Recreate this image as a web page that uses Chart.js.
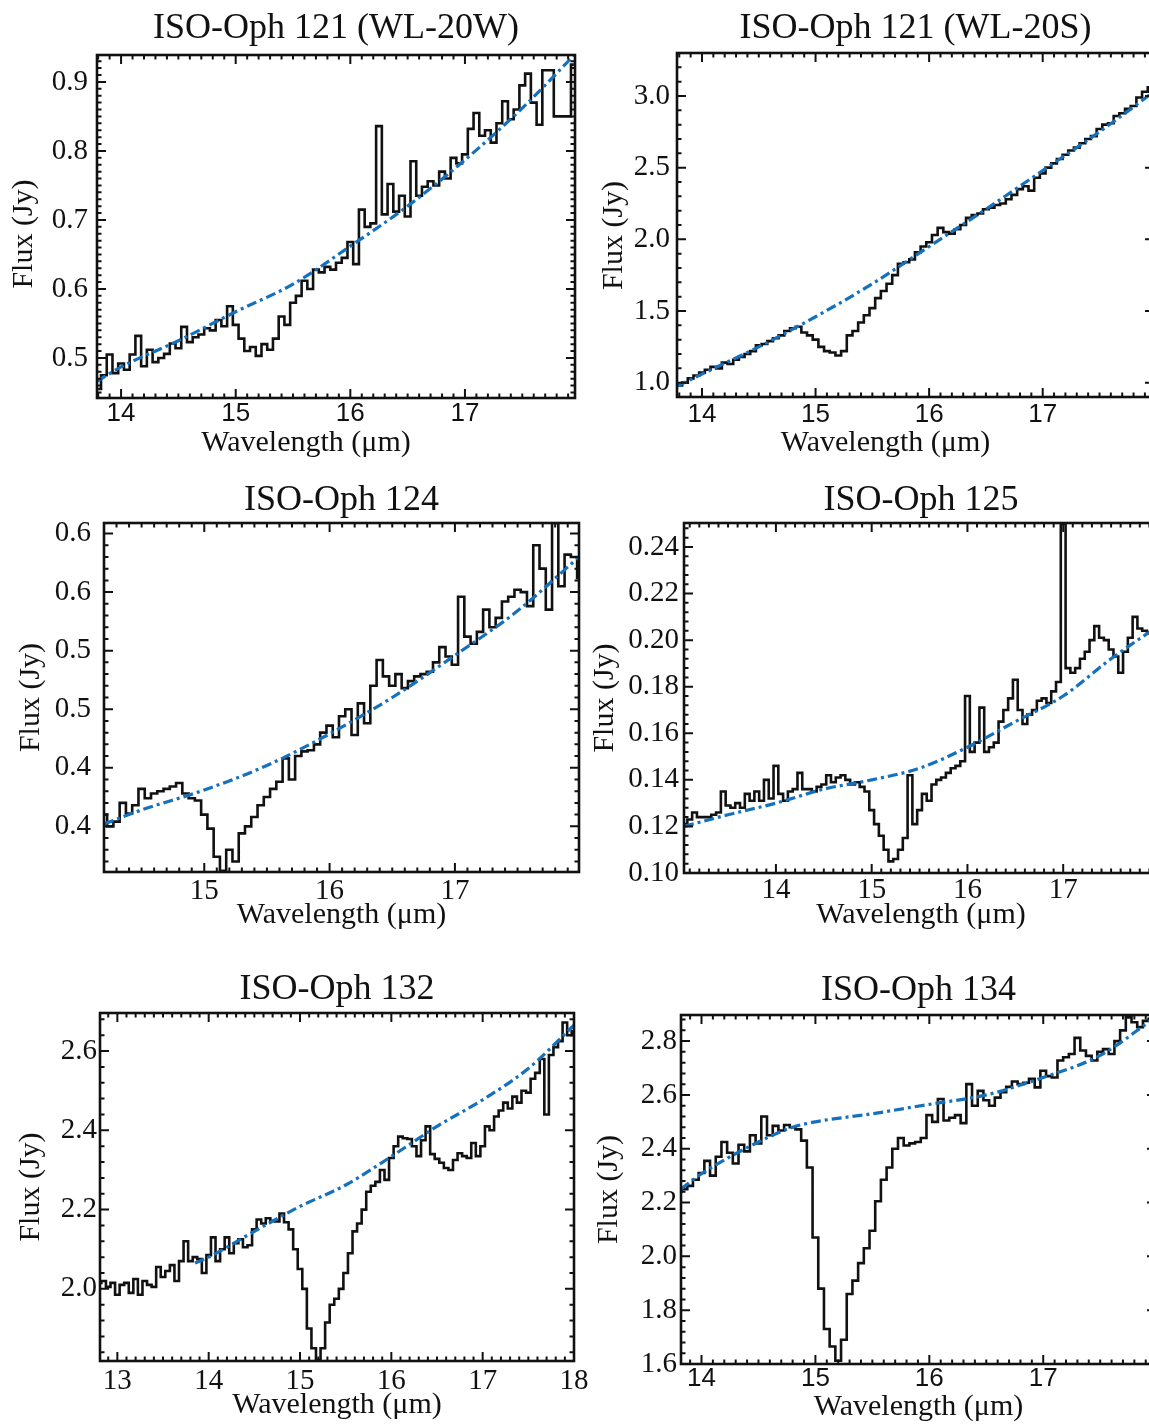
<!DOCTYPE html>
<html>
<head>
<meta charset="utf-8">
<script src="https://cdn.jsdelivr.net/npm/chart.js@4.4.1/dist/chart.umd.min.js"></script>
<style>
html, body { margin: 0; padding: 0; background: #fff; }
#page { position: relative; width: 1149px; height: 1425px; overflow: hidden; background: #fff; }
canvas { position: absolute; }
</style>
</head>
<body>
<div id="page">
<canvas id="c1"></canvas>
<canvas id="c2"></canvas>
<canvas id="c3"></canvas>
<canvas id="c4"></canvas>
<canvas id="c5"></canvas>
<canvas id="c6"></canvas>
</div>
<script>
'use strict';
// ISO-Oph 121 (WL-20W)
const wl121W = [13.80,13.85,13.90,13.95,14.00,14.05,14.10,14.15,14.20,14.25,
  14.30,14.35,14.40,14.45,14.50,14.55,14.60,14.65,14.70,14.75,
  14.80,14.85,14.90,14.95,15.00,15.05,15.10,15.15,15.20,15.25,
  15.30,15.35,15.40,15.45,15.50,15.55,15.60,15.65,15.70,15.75,
  15.80,15.85,15.90,15.95,16.00,16.05,16.10,16.15,16.20,16.25,
  16.30,16.35,16.40,16.45,16.50,16.55,16.60,16.65,16.70,16.75,
  16.80,16.85,16.90,16.95,17.00,17.05,17.10,17.15,17.20,17.25,
  17.30,17.35,17.40,17.45,17.50,17.55,17.60,17.65,17.70,17.75,
  17.80,17.85,17.90,17.95];
const fx121W = [0.455,0.475,0.505,0.478,0.492,0.483,0.505,0.532,0.488,0.512,
  0.494,0.500,0.506,0.521,0.514,0.545,0.523,0.530,0.534,0.543,
  0.540,0.555,0.546,0.575,0.548,0.528,0.510,0.516,0.503,0.520,
  0.512,0.528,0.560,0.548,0.580,0.590,0.612,0.600,0.628,0.624,
  0.632,0.628,0.638,0.645,0.668,0.636,0.715,0.690,0.695,0.836,
  0.708,0.752,0.712,0.735,0.705,0.785,0.735,0.748,0.756,0.750,
  0.770,0.760,0.790,0.782,0.795,0.832,0.855,0.822,0.830,0.812,
  0.840,0.872,0.846,0.860,0.895,0.912,0.870,0.838,0.917,0.917,
  0.850,0.850,0.850,0.925];
const cwl121W = [13.79,14.0,14.5,15.0,15.5,16.0,16.5,17.0,17.5,17.96];
const cfx121W = [0.466,0.487,0.525,0.567,0.607,0.662,0.720,0.787,0.862,0.940];

// ISO-Oph 121 (WL-20S)
const wl121S = [13.80,13.85,13.90,13.95,14.00,14.05,14.10,14.15,14.20,14.25,
  14.30,14.35,14.40,14.45,14.50,14.55,14.60,14.65,14.70,14.75,
  14.80,14.85,14.90,14.95,15.00,15.05,15.10,15.15,15.20,15.25,
  15.30,15.35,15.40,15.45,15.50,15.55,15.60,15.65,15.70,15.75,
  15.80,15.85,15.90,15.95,16.00,16.05,16.10,16.15,16.20,16.25,
  16.30,16.35,16.40,16.45,16.50,16.55,16.60,16.65,16.70,16.75,
  16.80,16.85,16.90,16.95,17.00,17.05,17.10,17.15,17.20,17.25,
  17.30,17.35,17.40,17.45,17.50,17.55,17.60,17.65,17.70,17.75,
  17.80,17.85,17.90,17.95,18.00];
const fx121S = [0.98,1.00,1.03,1.05,1.07,1.09,1.11,1.10,1.14,1.13,
  1.16,1.18,1.20,1.22,1.26,1.27,1.29,1.31,1.33,1.36,
  1.38,1.39,1.35,1.33,1.30,1.25,1.22,1.21,1.19,1.22,
  1.33,1.36,1.42,1.47,1.52,1.59,1.64,1.69,1.75,1.83,
  1.84,1.86,1.91,1.95,1.98,2.03,2.08,2.05,2.04,2.07,
  2.10,2.15,2.17,2.18,2.21,2.22,2.24,2.25,2.28,2.31,
  2.35,2.37,2.34,2.43,2.46,2.50,2.53,2.56,2.59,2.62,
  2.64,2.67,2.70,2.72,2.77,2.80,2.81,2.86,2.88,2.91,
  2.93,2.99,3.03,3.06,3.08];
const cwl121S = [13.78,14.0,14.5,15.0,15.5,16.0,16.5,17.0,17.5,17.98];
const cfx121S = [0.975,1.06,1.25,1.46,1.69,1.95,2.21,2.48,2.75,3.03];

// ISO-Oph 124
const wl124 = [14.20,14.25,14.30,14.35,14.40,14.45,14.50,14.55,14.60,14.65,
  14.70,14.75,14.80,14.85,14.90,14.95,15.00,15.05,15.10,15.15,
  15.20,15.25,15.30,15.35,15.40,15.45,15.50,15.55,15.60,15.65,
  15.70,15.75,15.80,15.85,15.90,15.95,16.00,16.05,16.10,16.15,
  16.20,16.25,16.30,16.35,16.40,16.45,16.50,16.55,16.60,16.65,
  16.70,16.75,16.80,16.85,16.90,16.95,17.00,17.05,17.10,17.15,
  17.20,17.25,17.30,17.35,17.40,17.45,17.50,17.55,17.60,17.65,
  17.70,17.75,17.80,17.85,17.90,17.95,18.00];
const fx124 = [0.410,0.400,0.404,0.420,0.411,0.418,0.432,0.424,0.428,0.430,
  0.432,0.434,0.437,0.428,0.424,0.422,0.410,0.398,0.374,0.362,
  0.380,0.370,0.394,0.400,0.408,0.418,0.425,0.432,0.438,0.458,
  0.440,0.460,0.464,0.465,0.470,0.480,0.486,0.476,0.494,0.500,
  0.478,0.505,0.488,0.520,0.542,0.528,0.520,0.530,0.518,0.524,
  0.528,0.530,0.532,0.540,0.553,0.545,0.538,0.596,0.562,0.556,
  0.566,0.585,0.570,0.578,0.592,0.596,0.602,0.600,0.588,0.640,
  0.620,0.585,0.659,0.605,0.632,0.630,0.612];
const cwl124 = [14.2,14.5,15.0,15.5,16.0,16.5,17.0,17.5,17.99];
const cfx124 = [0.402,0.414,0.431,0.452,0.479,0.510,0.546,0.584,0.630];

// ISO-Oph 125
const wl125 = [13.05,13.10,13.15,13.20,13.25,13.30,13.35,13.40,13.45,13.50,
  13.55,13.60,13.65,13.70,13.75,13.80,13.85,13.90,13.95,14.00,
  14.05,14.10,14.15,14.20,14.25,14.30,14.35,14.40,14.45,14.50,
  14.55,14.60,14.65,14.70,14.75,14.80,14.85,14.90,14.95,15.00,
  15.05,15.10,15.15,15.20,15.25,15.30,15.35,15.40,15.45,15.50,
  15.55,15.60,15.65,15.70,15.75,15.80,15.85,15.90,15.95,16.00,
  16.05,16.10,16.15,16.20,16.25,16.30,16.35,16.40,16.45,16.50,
  16.55,16.60,16.65,16.70,16.75,16.80,16.85,16.90,16.95,17.00,
  17.05,17.10,17.15,17.20,17.25,17.30,17.35,17.40,17.45,17.50,
  17.55,17.60,17.65,17.70,17.75,17.80,17.85,17.90,17.95,18.00];
const fx125 = [0.121,0.123,0.126,0.124,0.124,0.124,0.125,0.126,0.135,0.129,
  0.128,0.130,0.128,0.134,0.131,0.135,0.131,0.140,0.132,0.146,
  0.134,0.131,0.135,0.136,0.143,0.136,0.136,0.135,0.137,0.138,
  0.142,0.139,0.141,0.142,0.140,0.138,0.139,0.137,0.135,0.127,
  0.121,0.116,0.110,0.105,0.106,0.110,0.115,0.142,0.121,0.127,
  0.134,0.131,0.138,0.140,0.141,0.143,0.145,0.146,0.148,0.176,
  0.152,0.156,0.171,0.152,0.154,0.156,0.165,0.170,0.175,0.183,
  0.170,0.164,0.168,0.170,0.174,0.175,0.173,0.178,0.182,0.250,
  0.188,0.186,0.188,0.192,0.195,0.200,0.206,0.201,0.200,0.196,
  0.193,0.186,0.195,0.201,0.210,0.205,0.204,0.203,0.206,0.203];
const cwl125 = [13.04,13.5,14.0,14.5,15.0,15.5,16.0,16.5,17.0,17.5,17.99];
const cfx125 = [0.120,0.125,0.130,0.136,0.140,0.145,0.154,0.165,0.176,0.192,0.206];

// ISO-Oph 132
const wl132 = [12.80,12.85,12.90,12.95,13.00,13.05,13.10,13.15,13.20,13.25,13.30,
  13.35,13.40,13.45,13.50,13.55,13.60,13.65,13.70,13.75,13.80,
  13.85,13.90,13.95,14.00,14.05,14.10,14.15,14.20,14.25,14.30,
  14.35,14.40,14.45,14.50,14.55,14.60,14.65,14.70,14.75,14.80,
  14.85,14.90,14.95,15.00,15.05,15.10,15.15,15.20,15.25,15.30,
  15.35,15.40,15.45,15.50,15.55,15.60,15.65,15.70,15.75,15.80,
  15.85,15.90,15.95,16.00,16.05,16.10,16.15,16.20,16.25,16.30,
  16.35,16.40,16.45,16.50,16.55,16.60,16.65,16.70,16.75,16.80,
  16.85,16.90,16.95,17.00,17.05,17.10,17.15,17.20,17.25,17.30,
  17.35,17.40,17.45,17.50,17.55,17.60,17.65,17.70,17.75,17.80,
  17.85,17.90,17.95,18.00];
const fx132 = [2.015,2.020,2.005,2.015,1.985,2.010,2.015,1.990,2.025,1.985,2.020,
  2.010,2.005,2.055,2.030,2.045,2.060,2.020,2.070,2.120,2.070,
  2.080,2.075,2.040,2.085,2.130,2.070,2.100,2.130,2.090,2.115,
  2.125,2.105,2.110,2.150,2.175,2.165,2.178,2.172,2.170,2.190,
  2.168,2.150,2.100,2.050,2.000,1.900,1.850,1.820,1.850,1.915,
  1.960,1.975,2.000,2.040,2.090,2.145,2.165,2.200,2.245,2.260,
  2.270,2.300,2.275,2.330,2.360,2.384,2.380,2.378,2.360,2.335,
  2.375,2.410,2.340,2.328,2.318,2.305,2.300,2.325,2.342,2.335,
  2.330,2.368,2.335,2.360,2.410,2.400,2.435,2.450,2.470,2.455,
  2.485,2.470,2.500,2.495,2.530,2.545,2.580,2.440,2.590,2.610,
  2.625,2.672,2.640,2.650];
const cwl132 = [13.85,14.0,14.5,15.0,15.5,16.0,16.5,17.0,17.5,18.0];
const cfx132 = [2.065,2.080,2.145,2.208,2.262,2.334,2.410,2.477,2.556,2.665];

// ISO-Oph 134
const wl134 = [13.80,13.85,13.90,13.95,14.00,14.05,14.10,14.15,14.20,14.25,
  14.30,14.35,14.40,14.45,14.50,14.55,14.60,14.65,14.70,14.75,
  14.80,14.85,14.90,14.95,15.00,15.05,15.10,15.15,15.20,15.25,
  15.30,15.35,15.40,15.45,15.50,15.55,15.60,15.65,15.70,15.75,
  15.80,15.85,15.90,15.95,16.00,16.05,16.10,16.15,16.20,16.25,
  16.30,16.35,16.40,16.45,16.50,16.55,16.60,16.65,16.70,16.75,
  16.80,16.85,16.90,16.95,17.00,17.05,17.10,17.15,17.20,17.25,
  17.30,17.35,17.40,17.45,17.50,17.55,17.60,17.65,17.70,17.75,
  17.80,17.85,17.90,17.95,18.00];
const fx134 = [2.240,2.250,2.262,2.285,2.310,2.355,2.300,2.370,2.425,2.385,
  2.345,2.415,2.390,2.450,2.420,2.520,2.450,2.485,2.468,2.488,
  2.480,2.472,2.430,2.330,2.070,1.880,1.730,1.665,1.612,1.690,
  1.860,1.910,1.975,2.030,2.095,2.205,2.285,2.330,2.400,2.440,
  2.412,2.420,2.425,2.440,2.525,2.500,2.585,2.505,2.515,2.525,
  2.495,2.640,2.560,2.615,2.580,2.560,2.590,2.610,2.630,2.650,
  2.640,2.645,2.660,2.628,2.690,2.670,2.665,2.728,2.740,2.752,
  2.812,2.765,2.745,2.728,2.760,2.770,2.752,2.800,2.840,2.888,
  2.870,2.852,2.875,2.883,2.870];
const cwl134 = [13.82,14.0,14.5,14.8,15.0,15.5,16.0,16.5,17.0,17.5,17.99];
const cfx134 = [2.250,2.307,2.425,2.480,2.500,2.530,2.565,2.600,2.665,2.747,2.890];

// tick values and labels
const xTicks14 = [14, 15, 16, 17];
const xLabels14 = ['14', '15', '16', '17'];
const xTicks124 = [15, 16, 17];
const xLabels124 = ['15', '16', '17'];
const xTicks132 = [13, 14, 15, 16, 17, 18];
const xLabels132 = ['13', '14', '15', '16', '17', '18'];
const yTicks121W = [0.5, 0.6, 0.7, 0.8, 0.9];
const yLabels121W = ['0.5', '0.6', '0.7', '0.8', '0.9'];
const yTicks121S = [1.0, 1.5, 2.0, 2.5, 3.0];
const yLabels121S = ['1.0', '1.5', '2.0', '2.5', '3.0'];
const yTicks124 = [0.40, 0.45, 0.50, 0.55, 0.60, 0.65];
const yLabels124 = ['0.4', '0.4', '0.5', '0.5', '0.6', '0.6'];
const yTicks125 = [0.10, 0.12, 0.14, 0.16, 0.18, 0.20, 0.22, 0.24];
const yLabels125 = ['0.10', '0.12', '0.14', '0.16', '0.18', '0.20', '0.22', '0.24'];
const yTicks132 = [2.0, 2.2, 2.4, 2.6];
const yLabels132 = ['2.0', '2.2', '2.4', '2.6'];
const yTicks134 = [1.6, 1.8, 2.0, 2.2, 2.4, 2.6, 2.8];
const yLabels134 = ['1.6', '1.8', '2.0', '2.2', '2.4', '2.6', '2.8'];

const SERIF = "'Liberation Serif', 'DejaVu Serif', serif";
const SANS = "'Liberation Sans', 'DejaVu Sans', sans-serif";
const INK = '#111111';
const BLUE = '#1671bd';
const TITLE_SIZE = 36;
const AXIS_SIZE = 30;
const YTICK_SIZE = 29;

const panels = [
  { id: 'c1', left: 0, top: 0, w: 600, h: 470, area: [97, 55, 575, 398], title: 'ISO-Oph 121 (WL-20W)',
    wl: wl121W, fx: fx121W, cwl: cwl121W, cfx: cfx121W, xr: [13.79, 17.96], yr: [0.442, 0.939],
    xt: xTicks14, xl: xLabels14, yt: yTicks121W, yl: yLabels121W, xMinor: 0.1, yMinor: 0.01,
    sansX: true, titleMid: 29, xLabMid: 15.5, yLabGap: 9, yTitleX: 24, xTitleY: 443, xPadN: 4, yPad: '\u2002' },
  { id: 'c2', left: 580, top: 0, w: 600, h: 470, area: [97, 53, 574, 397], title: 'ISO-Oph 121 (WL-20S)',
    wl: wl121S, fx: fx121S, cwl: cwl121S, cfx: cfx121S, xr: [13.78, 17.98], yr: [0.90, 3.30],
    xt: xTicks14, xl: xLabels14, yt: yTicks121S, yl: yLabels121S, xMinor: 0.1, yMinor: 0.1,
    sansX: true, titleMid: 29, xLabMid: 18, yLabGap: 7, yTitleX: 34, xTitleY: 443, xPadN: 4, yPad: '\u2002\u2009' },
  { id: 'c3', left: 0, top: 470, w: 600, h: 490, area: [104, 53, 579, 402], title: 'ISO-Oph 124',
    wl: wl124, fx: fx124, cwl: cwl124, cfx: cfx124, xr: [14.2, 17.99], yr: [0.361, 0.659],
    xt: xTicks124, xl: xLabels124, yt: yTicks124, yl: yLabels124, xMinor: 0.1, yMinor: 0.01,
    sansX: false, titleMid: 31, xLabMid: 19.5, yLabGap: 13, yTitleX: 31, xTitleY: 445, xPadN: 0, yPad: '' },
  { id: 'c4', left: 580, top: 470, w: 600, h: 490, area: [104, 53, 578, 403], title: 'ISO-Oph 125',
    wl: wl125, fx: fx125, cwl: cwl125, cfx: cfx125, xr: [13.04, 17.99], yr: [0.10, 0.2503],
    xt: xTicks14, xl: xLabels14, yt: yTicks125, yl: yLabels125, xMinor: 0.1, yMinor: 0.004,
    sansX: false, titleMid: 31, xLabMid: 17, yLabGap: 5, yTitleX: 25, xTitleY: 445, xPadN: 0, yPad: '' },
  { id: 'c5', left: 0, top: 960, w: 600, h: 465, area: [100, 53, 574, 401], title: 'ISO-Oph 132',
    wl: wl132, fx: fx132, cwl: cwl132, cfx: cfx132, xr: [12.81, 18.0], yr: [1.818, 2.696],
    xt: xTicks132, xl: xLabels132, yt: yTicks132, yl: yLabels132, xMinor: 0.1, yMinor: 0.04,
    sansX: false, titleMid: 30, xLabMid: 20.5, yLabGap: 3, yTitleX: 31, xTitleY: 445, xPadN: 0, yPad: '' },
  { id: 'c6', left: 580, top: 960, w: 600, h: 465, area: [101, 55, 576, 404], title: 'ISO-Oph 134',
    wl: wl134, fx: fx134, cwl: cwl134, cfx: cfx134, xr: [13.82, 17.99], yr: [1.60, 2.897],
    xt: xTicks14, xl: xLabels14, yt: yTicks134, yl: yLabels134, xMinor: 0.1, yMinor: 0.04,
    sansX: true, titleMid: 30.5, xLabMid: 15, yLabGap: 4, yTitleX: 29, xTitleY: 447, xPadN: 0, yPad: '' }
];

// box and inward IDL-style ticks on all four sides
const frameTicks = {
  id: 'frameTicks',
  afterDraw(chart, args, opts) {
    const { ctx, chartArea: a, scales: { x, y } } = chart;
    const MAJ = 9, MIN = 4.5;
    const minors = (scale, step, majors) => {
      const out = [];
      for (let k = Math.ceil(scale.min / step - 1e-6); k * step <= scale.max + 1e-9; k++) {
        const v = k * step;
        if (!majors.some(m => Math.abs(m - v) < step / 2)) out.push(v);
      }
      return out;
    };
    ctx.save();
    ctx.strokeStyle = INK;
    ctx.lineWidth = 2;
    ctx.beginPath();
    const xt = (vals, len) => vals.forEach(v => {
      const px = x.getPixelForValue(v);
      ctx.moveTo(px, a.bottom); ctx.lineTo(px, a.bottom - len);
      ctx.moveTo(px, a.top); ctx.lineTo(px, a.top + len);
    });
    const yt = (vals, len) => vals.forEach(v => {
      const py = y.getPixelForValue(v);
      ctx.moveTo(a.left, py); ctx.lineTo(a.left + len, py);
      ctx.moveTo(a.right, py); ctx.lineTo(a.right - len, py);
    });
    xt(opts.xMajor, MAJ);
    xt(minors(x, opts.xMinor, opts.xMajor), MIN);
    yt(opts.yMajor, MAJ);
    yt(minors(y, opts.yMinor, opts.yMajor), MIN);
    ctx.stroke();
    ctx.lineWidth = 2.6;
    ctx.strokeRect(a.left, a.top, a.right - a.left, a.bottom - a.top);
    ctx.restore();
  }
};

function makeChart(p) {
  const cv = document.getElementById(p.id);
  cv.width = p.w;
  cv.height = p.h;
  cv.style.left = p.left + 'px';
  cv.style.top = p.top + 'px';
  const [aL, aT, aR, aB] = p.area;
  const titleLH = TITLE_SIZE * 1.2;
  const axisLH = AXIS_SIZE * 1.2;
  const xFont = p.sansX ? { family: SANS, size: 26, lineHeight: 1.2 } : { family: SERIF, size: 29, lineHeight: 1.2 };
  const xLH = xFont.size * 1.2;

  new Chart(cv, {
    type: 'line',
    data: {
      datasets: [
        {
          data: p.cwl.map((w, i) => ({ x: w, y: p.cfx[i] })),
          borderColor: BLUE,
          borderWidth: 3.2,
          borderDash: [10, 4, 3, 4],
          cubicInterpolationMode: 'monotone',
          pointRadius: 0,
          fill: false,
          clip: 0
        },
        {
          data: p.wl.map((w, i) => ({ x: w, y: p.fx[i] })),
          borderColor: INK,
          borderWidth: 2.6,
          stepped: 'middle',
          pointRadius: 0,
          fill: false,
          clip: 0
        }
      ]
    },
    options: {
      responsive: false,
      animation: false,
      devicePixelRatio: 1,
      events: [],
      layout: { padding: { left: 0, top: 0, bottom: 0, right: p.w - aR } },
      plugins: {
        legend: { display: false },
        tooltip: { enabled: false },
        title: {
          display: true,
          text: p.title,
          fullSize: false,
          color: INK,
          font: { family: SERIF, size: TITLE_SIZE, weight: 'normal', lineHeight: 1.2 },
          padding: { top: p.titleMid - titleLH / 2, bottom: aT - p.titleMid - titleLH / 2 }
        },
        frameTicks: { xMajor: p.xt, yMajor: p.yt, xMinor: p.xMinor, yMinor: p.yMinor }
      },
      scales: {
        x: {
          type: 'linear',
          min: p.xr[0],
          max: p.xr[1],
          grid: { display: false, drawTicks: false },
          border: { display: false },
          afterBuildTicks: s => { s.ticks = p.xt.map(v => ({ value: v })); },
          afterFit: s => { s.height = p.h - aB; },
          ticks: {
            autoSkip: false,
            maxRotation: 0,
            color: INK,
            font: xFont,
            padding: p.xLabMid - xLH / 2,
            callback: (v, i) => p.xl[i]
          },
          title: {
            display: true,
            // trailing en spaces push the centred title left, as in the original
            text: 'Wavelength (μm)' + '\u2002'.repeat(p.xPadN),
            color: INK,
            font: { family: SERIF, size: AXIS_SIZE, lineHeight: 1.2 },
            padding: { top: 0, bottom: p.h - p.xTitleY - axisLH / 2 }
          }
        },
        y: {
          type: 'linear',
          min: p.yr[0],
          max: p.yr[1],
          grid: { display: false, drawTicks: false },
          border: { display: false },
          afterBuildTicks: s => { s.ticks = p.yt.map(v => ({ value: v })); },
          afterFit: s => { s.width = aL; },
          ticks: {
            autoSkip: false,
            color: INK,
            font: { family: SERIF, size: YTICK_SIZE, lineHeight: 1.2 },
            padding: p.yLabGap,
            callback: (v, i) => p.yl[i]
          },
          title: {
            display: true,
            text: 'Flux (Jy)' + p.yPad,
            color: INK,
            font: { family: SERIF, size: AXIS_SIZE, lineHeight: 1.2 },
            padding: { top: p.yTitleX - axisLH / 2, bottom: 0 }
          }
        }
      }
    },
    plugins: [frameTicks]
  });
}

panels.forEach(makeChart);
</script>
</body>
</html>
